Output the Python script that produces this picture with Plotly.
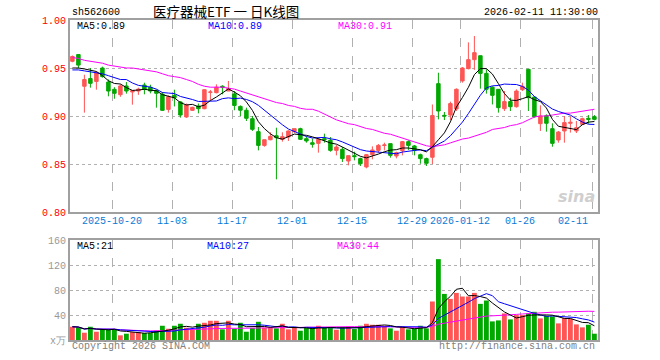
import plotly.graph_objects as go
import pandas as pd

dates = [
    "2025-10-09", "2025-10-10", "2025-10-13", "2025-10-14", "2025-10-15", "2025-10-16", "2025-10-17",
    "2025-10-20", "2025-10-21", "2025-10-22", "2025-10-23", "2025-10-24", "2025-10-27", "2025-10-28",
    "2025-10-29", "2025-10-30", "2025-10-31",
    "2025-11-03", "2025-11-04", "2025-11-05", "2025-11-06", "2025-11-07", "2025-11-10", "2025-11-11",
    "2025-11-12", "2025-11-13", "2025-11-14", "2025-11-17", "2025-11-18", "2025-11-19", "2025-11-20",
    "2025-11-21", "2025-11-24", "2025-11-25", "2025-11-26", "2025-11-27", "2025-11-28",
    "2025-12-01", "2025-12-02", "2025-12-03", "2025-12-04", "2025-12-05", "2025-12-08", "2025-12-09",
    "2025-12-10", "2025-12-11", "2025-12-12", "2025-12-15", "2025-12-16", "2025-12-17", "2025-12-18",
    "2025-12-19", "2025-12-22", "2025-12-23", "2025-12-24", "2025-12-25", "2025-12-26", "2025-12-29",
    "2025-12-30", "2025-12-31",
    "2026-01-05", "2026-01-06", "2026-01-07", "2026-01-08", "2026-01-09", "2026-01-12", "2026-01-13",
    "2026-01-14", "2026-01-15", "2026-01-16", "2026-01-19", "2026-01-20", "2026-01-21", "2026-01-22",
    "2026-01-23", "2026-01-26", "2026-01-27", "2026-01-28", "2026-01-29", "2026-01-30",
    "2026-02-02", "2026-02-03", "2026-02-04", "2026-02-05", "2026-02-06", "2026-02-09", "2026-02-10",
    "2026-02-11",
]

opens = [
    0.957, 0.964, 0.931, 0.939, 0.936, 0.950, 0.9354, 0.9278, 0.9222, 0.9313,
    0.925, 0.926, 0.9323, 0.930, 0.9267, 0.9226, 0.9069, 0.9215, 0.9146, 0.899,
    0.9059, 0.9104, 0.9076, 0.9247, 0.9243, 0.931, 0.926, 0.923, 0.910, 0.906,
    0.8972, 0.8837, 0.8694, 0.8753, 0.8795, 0.8757, 0.8781, 0.8837, 0.8868, 0.8764,
    0.8722, 0.8715, 0.8764, 0.8747, 0.8642, 0.8653, 0.8531, 0.8587, 0.8556, 0.8469,
    0.8597, 0.8642, 0.8694, 0.8712, 0.8583, 0.8639, 0.8733, 0.8688, 0.8597, 0.8556,
    0.857, 0.9337, 0.9007, 0.901, 0.9073, 0.9365, 0.9493, 0.9587, 0.9628, 0.9444,
    0.930, 0.9278, 0.9076, 0.915, 0.9097, 0.9274, 0.9486, 0.9198, 0.892, 0.9003,
    0.8868, 0.875, 0.8844, 0.8924, 0.8844, 0.8913, 0.8976, 0.8993,
]
highs = [
    0.963, 0.964, 0.943, 0.950, 0.9465, 0.9514, 0.938, 0.930, 0.933, 0.9354,
    0.9264, 0.9295, 0.9347, 0.9326, 0.9274, 0.925, 0.9215, 0.9274, 0.9156, 0.913,
    0.9097, 0.913, 0.928, 0.9271, 0.933, 0.932, 0.9365, 0.926, 0.911, 0.9087,
    0.900, 0.8885, 0.8753, 0.883, 0.8878, 0.883, 0.885, 0.8868, 0.8878, 0.8788,
    0.8764, 0.8764, 0.8816, 0.8781, 0.8698, 0.8677, 0.8587, 0.8628, 0.8566, 0.8604,
    0.8684, 0.8708, 0.8722, 0.8712, 0.8628, 0.874, 0.8747, 0.8698, 0.8608, 0.8566,
    0.912, 0.9451, 0.9042, 0.915, 0.9288, 0.951, 0.9767, 0.9833, 0.9628, 0.9486,
    0.931, 0.9278, 0.926, 0.919, 0.9278, 0.9347, 0.9486, 0.9208, 0.9111, 0.9017,
    0.8924, 0.8844, 0.900, 0.8993, 0.8948, 0.8983, 0.901, 0.901,
]
lows = [
    0.956, 0.950, 0.9035, 0.9295, 0.9274, 0.940, 0.9205, 0.918, 0.920, 0.9233,
    0.9118, 0.922, 0.9226, 0.9236, 0.9087, 0.9052, 0.9035, 0.910, 0.8983, 0.898,
    0.9052, 0.9028, 0.907, 0.9163, 0.9236, 0.9226, 0.926, 0.906, 0.900, 0.8948,
    0.8844, 0.8642, 0.868, 0.8747, 0.834, 0.8733, 0.874, 0.8823, 0.875, 0.8722,
    0.867, 0.8618, 0.8722, 0.8628, 0.859, 0.8521, 0.8486, 0.8538, 0.8479, 0.8455,
    0.8549, 0.8618, 0.8642, 0.8566, 0.8559, 0.859, 0.8646, 0.859, 0.8503, 0.8479,
    0.850, 0.8965, 0.8958, 0.8958, 0.9052, 0.9347, 0.9486, 0.948, 0.9285, 0.9233,
    0.912, 0.9035, 0.9052, 0.9052, 0.9087, 0.926, 0.9052, 0.8983, 0.8844, 0.8837,
    0.868, 0.8722, 0.8722, 0.8827, 0.8823, 0.8906, 0.892, 0.8955,
]
closes = [
    0.962, 0.953, 0.938, 0.934, 0.9448, 0.941, 0.926, 0.9236, 0.9313, 0.926,
    0.9264, 0.928, 0.9278, 0.926, 0.9236, 0.9059, 0.9201, 0.919, 0.901, 0.9115,
    0.909, 0.9076, 0.9274, 0.925, 0.930, 0.930, 0.9285, 0.911, 0.906, 0.8976,
    0.8861, 0.8694, 0.8753, 0.8788, 0.8774, 0.8785, 0.8844, 0.8868, 0.8757, 0.874,
    0.8705, 0.8757, 0.8753, 0.8642, 0.8677, 0.8556, 0.8587, 0.8577, 0.8503, 0.8597,
    0.8646, 0.8694, 0.8698, 0.859, 0.8618, 0.8733, 0.8694, 0.8642, 0.8556, 0.8507,
    0.9005, 0.9052, 0.900, 0.9129, 0.9278, 0.950, 0.9587, 0.966, 0.9444, 0.9278,
    0.9215, 0.9087, 0.915, 0.9097, 0.926, 0.9309, 0.9191, 0.8993, 0.900, 0.8924,
    0.8715, 0.8833, 0.8931, 0.8934, 0.8878, 0.8972, 0.8965, 0.8965,
]
volumes = [
    21.3, 20.3, 11.7, 21.3, 13.3, 17.6, 17.6, 16.5, 7.5, 10.1,
    12.8, 12.8, 11.2, 11.2, 14.9, 22.9, 18.1, 22.9, 26.1, 19.7,
    16.5, 26.1, 27.7, 30.9, 30.9, 17.1, 30.9, 18.1, 27.7, 13.3,
    19.2, 29.3, 19.7, 19.7, 18.7, 26.1, 17.1, 20.3, 14.9, 19.2,
    19.7, 22.9, 19.7, 19.2, 16.5, 20.3, 21.3, 17.6, 22.9, 26.1,
    24.5, 24.5, 22.9, 18.7, 14.9, 21.3, 17.1, 18.7, 22.9, 18.7,
    61.9, 130.0, 74.1, 66.1, 75.7, 69.9, 69.9, 75.7, 58.1, 63.5,
    29.9, 31.5, 42.7, 33.1, 40.0, 40.0, 42.7, 45.3, 34.7, 38.9,
    37.9, 26.7, 35.2, 34.1, 25.1, 20.3, 24.5, 10.1,
]
# MA30 line (it depends on closes before the window)
ma30 = [
    0.961, 0.960, 0.958, 0.957, 0.956, 0.955, 0.953, 0.952, 0.951, 0.950,
    0.950, 0.949, 0.948, 0.947, 0.946, 0.944, 0.942, 0.941, 0.940, 0.938,
    0.936, 0.933, 0.931, 0.930, 0.930, 0.930, 0.929, 0.928, 0.926, 0.924,
    0.922, 0.920, 0.918, 0.916, 0.914, 0.913, 0.911, 0.910, 0.908, 0.907,
    0.907, 0.905, 0.902, 0.899, 0.896, 0.894, 0.892, 0.891, 0.889, 0.887,
    0.886, 0.884, 0.882, 0.881, 0.879, 0.877, 0.875, 0.873, 0.871, 0.869,
    0.868, 0.869, 0.870, 0.872, 0.874, 0.876, 0.877, 0.879, 0.881, 0.883,
    0.886, 0.887, 0.888, 0.890, 0.891, 0.893, 0.896, 0.899, 0.900, 0.900,
    0.901, 0.902, 0.903, 0.903, 0.904, 0.905, 0.906, 0.907,
]
ma5_head = [0.950, 0.950, 0.949, 0.948]
ma10_head = [0.948, 0.948, 0.947, 0.946, 0.945, 0.944, 0.942, 0.940, 0.938]

tick_dates = ["2025-10-20", "2025-11-03", "2025-11-17", "2025-12-01", "2025-12-15",
              "2025-12-29", "2026-01-12", "2026-01-26", "2026-02-11"]
tick_labels = ["2025-10-20", "11-03", "11-17", "12-01", "12-15",
               "12-29", "2026-01-12", "01-26", "02-11"]
price_ticks = [0.80, 0.85, 0.90, 0.95, 1.00]
vol_ticks = [0, 40, 80, 120, 160]
vol_tick_text = ["x万", "40", "80", "120", "160"]

RED = "#ff5555"
GREEN = "#00a800"
MONO = "Liberation Mono, DejaVu Sans Mono, monospace"

n = len(dates)
x = list(range(n))
s = pd.Series(closes)
ma5 = s.rolling(5).mean().tolist()
ma5[:len(ma5_head)] = ma5_head
ma10 = s.rolling(10).mean().tolist()
ma10[:len(ma10_head)] = ma10_head
vs = pd.Series(volumes)
vma5 = vs.rolling(5, min_periods=1).mean().tolist()
vma10 = vs.rolling(10, min_periods=1).mean().tolist()
vma30 = vs.rolling(30, min_periods=1).mean().tolist()
vol_colors = [RED if c >= o else GREEN for o, c in zip(opens, closes)]

fig = go.Figure()
fig.add_trace(go.Candlestick(
    x=x, open=opens, high=highs, low=lows, close=closes,
    increasing=dict(line=dict(color=RED, width=1), fillcolor=RED),
    decreasing=dict(line=dict(color=GREEN, width=1), fillcolor=GREEN),
    whiskerwidth=0, xaxis="x", yaxis="y", showlegend=False, hoverinfo="skip"))
for arr, col in [(ma30, "#ff00ff"), (ma10, "#0000ff"), (ma5, "#000000")]:
    fig.add_trace(go.Scatter(x=x, y=arr, mode="lines", line=dict(color=col, width=1),
                             xaxis="x", yaxis="y", showlegend=False, hoverinfo="skip"))
fig.add_trace(go.Bar(x=x, y=volumes, marker=dict(color=vol_colors, line=dict(width=0)),
                     width=0.8, xaxis="x2", yaxis="y2", showlegend=False, hoverinfo="skip"))
for arr, col in [(vma30, "#ff00ff"), (vma10, "#0000ff"), (vma5, "#000000")]:
    fig.add_trace(go.Scatter(x=x, y=arr, mode="lines", line=dict(color=col, width=1),
                             xaxis="x2", yaxis="y2", showlegend=False, hoverinfo="skip"))

tick_idx = [dates.index(d) for d in tick_dates]
grid_x = [i - 0.35 for i in tick_idx]
XR = [-0.4, n - 0.4]

common_x = dict(range=XR, showticklabels=False, tickvals=grid_x, ticks="",
                showgrid=True, gridcolor="#b0b0b0", griddash="dash", gridwidth=1,
                showline=True, mirror=True, linecolor="#a0a0a0", linewidth=2,
                zeroline=False, rangeslider=dict(visible=False), fixedrange=True)

fig.update_layout(
    width=660, height=360,
    margin=dict(l=70, r=62, t=20, b=20),
    paper_bgcolor="white", plot_bgcolor="white",
    boxgap=0.17,
    xaxis=dict(**common_x, domain=[0, 1], anchor="y"),
    xaxis2=dict(**common_x, domain=[0, 1], anchor="y2"),
    yaxis=dict(domain=[0.4, 1.0], range=[0.80, 1.00], tickvals=price_ticks,
               ticktext=["%.2f" % v for v in price_ticks],
               tickfont=dict(family=MONO, size=10, color="#ff0000"),
               showgrid=True, gridcolor="#b0b0b0", griddash="dot",
               showline=True, mirror=True, linecolor="#a0a0a0", linewidth=2,
               zeroline=False, ticks="", fixedrange=True),
    yaxis2=dict(domain=[0, 0.311], range=[0, 160], tickvals=vol_ticks, ticktext=vol_tick_text,
                tickfont=dict(family=MONO, size=10, color="#999999"),
                showgrid=True, gridcolor="#b0b0b0", griddash="dot",
                showline=True, mirror=True, linecolor="#a0a0a0", linewidth=2,
                zeroline=False, ticks="", fixedrange=True),
    bargap=0.2,
    showlegend=False,
)


def px(v):
    return (v - 70) / 528.0


def py(v):
    return (340 - v) / 320.0


anns = []


def add_text(text, xpix, ypix, color="#000000", size=10, family=MONO, xanchor="left", **kw):
    anns.append(dict(text=text, x=px(xpix), y=py(ypix), xref="paper", yref="paper",
                     xanchor=xanchor, yanchor="middle", showarrow=False,
                     font=dict(family=family, size=size, color=color), **kw))


add_text("sh562600", 70, 12.5)
add_text("医疗器械ETF 一 日K线图", 151, 11.5, size=13.5,
         family="Noto Sans CJK SC, sans-serif")
add_text("2026-02-11 11:30:00", 600, 12.5, xanchor="right")

add_text("MA5:%.2f" % ma5[-1], 75, 27, color="#000000")
add_text("MA10:%.2f" % ma10[-1], 206, 27, color="#0000ff")
add_text("MA30:%.2f" % ma30[-1], 336, 27, color="#ff00ff")

add_text("MA5:21", 75, 246, color="#000000")
add_text("MA10:27", 205, 246, color="#0000ff")
add_text("MA30:44", 335, 246, color="#ff00ff")

for k, (gx, lab) in enumerate(zip(grid_x, tick_labels)):
    xp = 70 + (gx - XR[0]) * 6
    if k == len(tick_labels) - 1:
        add_text(lab, 590, 221.5, color="#0a7ad6", xanchor="right")
    else:
        add_text(lab, xp, 221.5, color="#0a7ad6", xanchor="center")

add_text("Copyright 2026 SINA.COM", 70, 346, color="#808080")
add_text("http://finance.sina.com.cn", 597, 346, color="#808080", xanchor="right")
add_text("<b><i>sina</i></b>", 597, 196, color="#cfcfcf", size=16,
         family="DejaVu Sans, sans-serif", xanchor="right")

fig.update_layout(annotations=anns)
fig.write_html("out.html", post_script="document.body.style.margin='0';",
               config={"displayModeBar": False, "staticPlot": True})
